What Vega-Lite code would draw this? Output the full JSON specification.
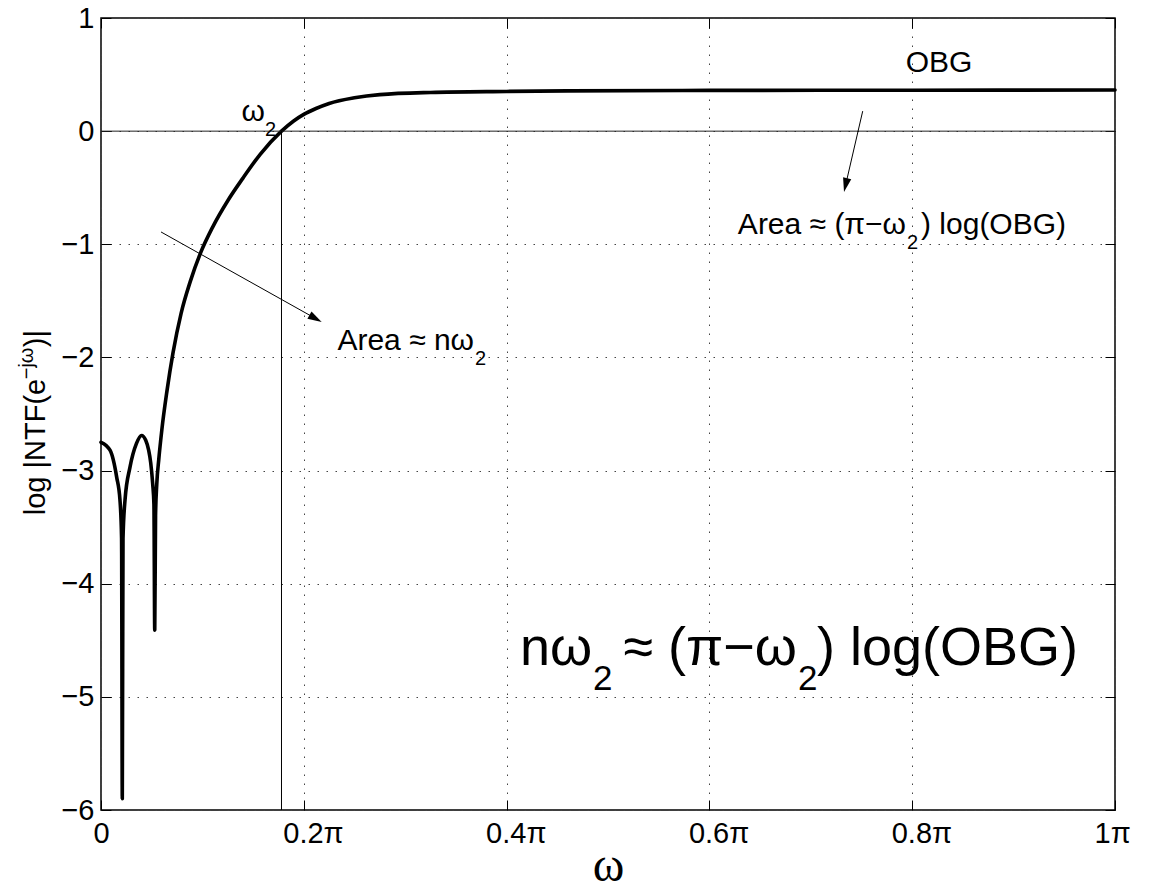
{
  "$schema": "https://vega.github.io/schema/vega-lite/v6.json",
  "width": 1014,
  "height": 792,
  "autosize": {"type": "none"},
  "padding": {"left": 101, "top": 18, "right": 36, "bottom": 80},
  "background": "white",
  "config": {
    "view": {"stroke": "black", "strokeWidth": 1.5},
    "font": "Liberation Sans",
    "axis": {
      "labelFont": "Liberation Sans",
      "labelFontSize": 29,
      "labelColor": "black",
      "tickColor": "black",
      "tickWidth": 1,
      "tickSize": -10,
      "domainColor": "black",
      "domainWidth": 1.5,
      "gridColor": "#444",
      "gridDash": [1.5, 7.5],
      "gridWidth": 1,
      "labelFlush": false,
      "labelOverlap": false
    }
  },
  "datasets": {
    "curve": [
      {"w": 0, "v": -2.75}, {"w": 0.0089, "v": -2.82}, {"w": 0.0155, "v": -3.06}, {"w": 0.0187, "v": -3.26},
      {"w": 0.0203, "v": -3.6}, {"w": 0.021, "v": -5.9}, {"w": 0.0217, "v": -3.6}, {"w": 0.0237, "v": -3.26},
      {"w": 0.0286, "v": -2.97}, {"w": 0.035, "v": -2.76}, {"w": 0.04, "v": -2.69}, {"w": 0.044, "v": -2.73},
      {"w": 0.047, "v": -2.82}, {"w": 0.049, "v": -2.93}, {"w": 0.051, "v": -3.12}, {"w": 0.0522, "v": -3.3},
      {"w": 0.053, "v": -4.41}, {"w": 0.0538, "v": -3.4}, {"w": 0.055, "v": -3.12}, {"w": 0.057, "v": -2.9},
      {"w": 0.06, "v": -2.64}, {"w": 0.065, "v": -2.3}, {"w": 0.071, "v": -1.96}, {"w": 0.079, "v": -1.61},
      {"w": 0.088, "v": -1.33}, {"w": 0.098, "v": -1.08}, {"w": 0.11, "v": -0.85}, {"w": 0.125, "v": -0.615},
      {"w": 0.14, "v": -0.415}, {"w": 0.157, "v": -0.205}, {"w": 0.178, "v": 0.0}, {"w": 0.19, "v": 0.09},
      {"w": 0.2, "v": 0.148}, {"w": 0.212, "v": 0.2}, {"w": 0.225, "v": 0.245}, {"w": 0.25, "v": 0.295},
      {"w": 0.275, "v": 0.323}, {"w": 0.325, "v": 0.342}, {"w": 0.4, "v": 0.351}, {"w": 0.46, "v": 0.356},
      {"w": 0.6, "v": 0.36}, {"w": 0.8, "v": 0.362}, {"w": 1.0, "v": 0.363}
    ]
  },
  "resolve": {"axis": {"x": "independent", "y": "independent"}},
  "layer": [
    {
      "data": {"name": "curve"},
      "mark": {"type": "line", "color": "black", "strokeWidth": 3.6, "interpolate": "monotone", "strokeJoin": "round", "strokeCap": "round"},
      "encoding": {
        "x": {"field": "w", "type": "quantitative",
              "scale": {"domain": [0, 1], "nice": false, "zero": false},
              "axis": {"orient": "bottom", "values": [0, 0.2, 0.4, 0.6, 0.8, 1], "domain": false,
                       "labelExpr": "datum.value == 0 ? '0' : (datum.value == 1 ? '1π' : format(datum.value, '.1f') + 'π')",
                       "labelAlign": {"condition": {"test": "datum.value == 0", "value": "center"}, "value": "left"},
                       "labelOffset": {"condition": {"test": "datum.value == 0", "value": 0}, "value": -21},
                       "labelPadding": 19,
                       "title": "ω", "titleFont": "Liberation Serif", "titleFontSize": 48, "titleFontWeight": "normal", "titleColor": "black",
                       "titleBaseline": "alphabetic", "titleY": 70}},
        "y": {"field": "v", "type": "quantitative",
              "scale": {"domain": [-6, 1], "nice": false, "zero": false},
              "axis": {"orient": "left", "values": [-6, -5, -4, -3, -2, -1, 0, 1], "domain": false,
                       "labelExpr": "replace(format(datum.value, 'd'), '-', '−')",
                       "labelPadding": 17, "title": null}}
      }
    },
    {
      "data": {"values": [{"v": 0}]},
      "mark": {"type": "rule", "color": "#222", "strokeWidth": 1},
      "encoding": {
        "y": {"field": "v", "type": "quantitative", "scale": {"domain": [-6, 1], "nice": false, "zero": false}, "axis": null}
      }
    },
    {
      "data": {"values": [{"w": 0.178, "v": 0, "v2": -6}]},
      "mark": {"type": "rule", "color": "black", "strokeWidth": 1},
      "encoding": {
        "x": {"field": "w", "type": "quantitative", "scale": {"domain": [0, 1], "nice": false, "zero": false},
              "axis": {"orient": "top", "values": [0, 0.2, 0.4, 0.6, 0.8, 1], "labels": false, "grid": false, "domain": false, "title": null}},
        "y": {"field": "v", "type": "quantitative", "scale": {"domain": [-6, 1], "nice": false, "zero": false},
              "axis": {"orient": "right", "values": [-6, -5, -4, -3, -2, -1, 0, 1], "labels": false, "grid": false, "domain": false, "title": null}},
        "y2": {"field": "v2"}
      }
    },
    {
      "data": {"values": [
        {"w": 0.7512, "v": 0.177, "w2": 0.7343, "v2": -0.477},
        {"w": 0.0592, "v": -0.891, "w2": 0.2116, "v2": -1.656}
      ]},
      "mark": {"type": "rule", "color": "black", "strokeWidth": 1},
      "encoding": {
        "x": {"field": "w", "type": "quantitative", "scale": {"domain": [0, 1], "nice": false, "zero": false}, "axis": null},
        "y": {"field": "v", "type": "quantitative", "scale": {"domain": [-6, 1], "nice": false, "zero": false}, "axis": null},
        "x2": {"field": "w2"},
        "y2": {"field": "v2"}
      }
    },
    {
      "data": {"values": [{"w": 0.7343, "v": -0.477}]},
      "mark": {"type": "point", "shape": "M0,-1L0.6,1L-0.6,1Z", "size": 196, "filled": true, "color": "black", "opacity": 1, "angle": 193},
      "encoding": {
        "x": {"field": "w", "type": "quantitative", "scale": {"domain": [0, 1], "nice": false, "zero": false}, "axis": null},
        "y": {"field": "v", "type": "quantitative", "scale": {"domain": [-6, 1], "nice": false, "zero": false}, "axis": null}
      }
    },
    {
      "data": {"values": [{"w": 0.2116, "v": -1.656}]},
      "mark": {"type": "point", "shape": "M0,-1L0.6,1L-0.6,1Z", "size": 196, "filled": true, "color": "black", "opacity": 1, "angle": 119.25},
      "encoding": {
        "x": {"field": "w", "type": "quantitative", "scale": {"domain": [0, 1], "nice": false, "zero": false}, "axis": null},
        "y": {"field": "v", "type": "quantitative", "scale": {"domain": [-6, 1], "nice": false, "zero": false}, "axis": null}
      }
    },
    {
      "data": {"values": [
        {"w": 0.7939, "v": -0.905, "t": "Area ≈ (π−ω"},
        {"w": 0.3679, "v": -1.936, "t": "Area ≈ nω"},
        {"w": 0.1617, "v": 0.088, "t": "ω"}
      ]},
      "mark": {"type": "text", "align": "right", "baseline": "alphabetic", "fontSize": 30, "font": "Liberation Sans", "color": "black", "clip": false},
      "encoding": {
        "x": {"field": "w", "type": "quantitative", "scale": {"domain": [0, 1], "nice": false, "zero": false}, "axis": null},
        "y": {"field": "v", "type": "quantitative", "scale": {"domain": [-6, 1], "nice": false, "zero": false}, "axis": null},
        "text": {"field": "t"}
      }
    },
    {
      "data": {"values": [
        {"w": 0.8087, "v": -0.905, "t": ") log(OBG)"}
      ]},
      "mark": {"type": "text", "align": "left", "baseline": "alphabetic", "fontSize": 30, "font": "Liberation Sans", "color": "black"},
      "encoding": {
        "x": {"field": "w", "type": "quantitative", "scale": {"domain": [0, 1], "nice": false, "zero": false}, "axis": null},
        "y": {"field": "v", "type": "quantitative", "scale": {"domain": [-6, 1], "nice": false, "zero": false}, "axis": null},
        "text": {"field": "t"}
      }
    },
    {
      "data": {"values": [
        {"w": 0.8264, "v": 0.522, "t": "OBG"}
      ]},
      "mark": {"type": "text", "align": "center", "baseline": "alphabetic", "fontSize": 30, "font": "Liberation Sans", "color": "black"},
      "encoding": {
        "x": {"field": "w", "type": "quantitative", "scale": {"domain": [0, 1], "nice": false, "zero": false}, "axis": null},
        "y": {"field": "v", "type": "quantitative", "scale": {"domain": [-6, 1], "nice": false, "zero": false}, "axis": null},
        "text": {"field": "t"}
      }
    },
    {
      "data": {"values": [
        {"w": 0.7949, "v": -0.905, "t": "2"},
        {"w": 0.3688, "v": -1.936, "t": "2"},
        {"w": 0.1617, "v": 0.088, "t": "2"}
      ]},
      "mark": {"type": "text", "align": "left", "baseline": "alphabetic", "fontSize": 20, "dy": 15, "font": "Liberation Sans", "color": "black"},
      "encoding": {
        "x": {"field": "w", "type": "quantitative", "scale": {"domain": [0, 1], "nice": false, "zero": false}, "axis": null},
        "y": {"field": "v", "type": "quantitative", "scale": {"domain": [-6, 1], "nice": false, "zero": false}, "axis": null},
        "text": {"field": "t"}
      }
    },
    {
      "data": {"values": [
        {"w": 0.4843, "v": -4.721, "t": "nω"},
        {"w": 0.6864, "v": -4.721, "t": "≈ (π−ω"}
      ]},
      "mark": {"type": "text", "align": "right", "baseline": "alphabetic", "fontSize": 54, "font": "Liberation Sans", "color": "black"},
      "encoding": {
        "x": {"field": "w", "type": "quantitative", "scale": {"domain": [0, 1], "nice": false, "zero": false}, "axis": null},
        "y": {"field": "v", "type": "quantitative", "scale": {"domain": [-6, 1], "nice": false, "zero": false}, "axis": null},
        "text": {"field": "t"}
      }
    },
    {
      "data": {"values": [
        {"w": 0.7061, "v": -4.721, "t": ") log(OBG)"}
      ]},
      "mark": {"type": "text", "align": "left", "baseline": "alphabetic", "fontSize": 54, "font": "Liberation Sans", "color": "black"},
      "encoding": {
        "x": {"field": "w", "type": "quantitative", "scale": {"domain": [0, 1], "nice": false, "zero": false}, "axis": null},
        "y": {"field": "v", "type": "quantitative", "scale": {"domain": [-6, 1], "nice": false, "zero": false}, "axis": null},
        "text": {"field": "t"}
      }
    },
    {
      "data": {"values": [
        {"w": 0.4853, "v": -4.721, "t": "2"},
        {"w": 0.6874, "v": -4.721, "t": "2"}
      ]},
      "mark": {"type": "text", "align": "left", "baseline": "alphabetic", "fontSize": 35, "dy": 25, "font": "Liberation Sans", "color": "black"},
      "encoding": {
        "x": {"field": "w", "type": "quantitative", "scale": {"domain": [0, 1], "nice": false, "zero": false}, "axis": null},
        "y": {"field": "v", "type": "quantitative", "scale": {"domain": [-6, 1], "nice": false, "zero": false}, "axis": null},
        "text": {"field": "t"}
      }
    },
    {
      "data": {"values": [
        {"w": -0.0552, "v": -3.395, "t": "log |NTF(e"},
        {"w": -0.0552, "v": -1.91, "t": ")|"}
      ]},
      "mark": {"type": "text", "align": "left", "baseline": "alphabetic", "angle": 270, "fontSize": 29, "font": "Liberation Sans", "color": "black", "clip": false},
      "encoding": {
        "x": {"field": "w", "type": "quantitative", "scale": {"domain": [0, 1], "nice": false, "zero": false}, "axis": null},
        "y": {"field": "v", "type": "quantitative", "scale": {"domain": [-6, 1], "nice": false, "zero": false}, "axis": null},
        "text": {"field": "t"}
      }
    },
    {
      "data": {"values": [
        {"w": -0.0552, "v": -2.193, "t": "−jω"}
      ]},
      "mark": {"type": "text", "align": "left", "baseline": "alphabetic", "angle": 270, "fontSize": 20, "dy": -12, "font": "Liberation Sans", "color": "black", "clip": false},
      "encoding": {
        "x": {"field": "w", "type": "quantitative", "scale": {"domain": [0, 1], "nice": false, "zero": false}, "axis": null},
        "y": {"field": "v", "type": "quantitative", "scale": {"domain": [-6, 1], "nice": false, "zero": false}, "axis": null},
        "text": {"field": "t"}
      }
    }
  ]
}
